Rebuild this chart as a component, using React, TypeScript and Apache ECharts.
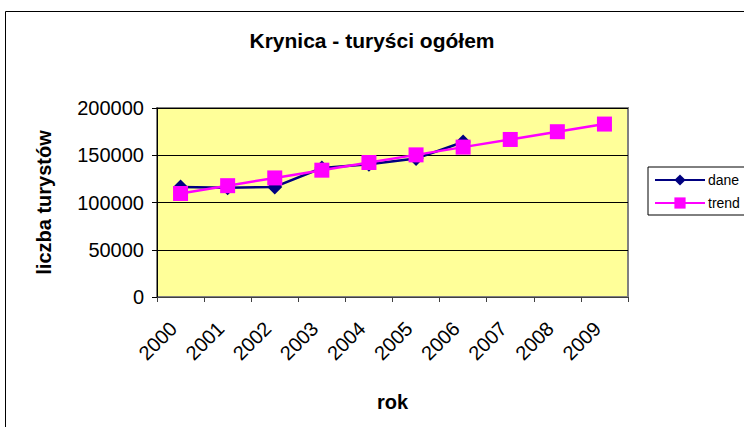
import React, { useEffect, useRef } from "react";
import * as echarts from "echarts";

const years = ["2000", "2001", "2002", "2003", "2004", "2005", "2006", "2007", "2008", "2009"];
const dane = [116500, 115500, 116500, 136500, 140500, 146500, 164000, null, null, null];
const trend = [109500, 117800, 126000, 134200, 142300, 150400, 158600, 166700, 174900, 183000];
const yTicks = { min: 0, max: 200000, interval: 50000 };

const FONT = "Arial, 'Liberation Sans', sans-serif";

export default function App() {
  const ref = useRef<HTMLDivElement>(null);
  useEffect(() => {
    if (!ref.current) return;
    const chart = echarts.init(ref.current, null, { renderer: "svg" });
    chart.setOption({
      animation: false,
      backgroundColor: "#ffffff",
      textStyle: { fontFamily: FONT, color: "#000" },
      title: {
        text: "Krynica - turyści ogółem",
        left: "center",
        top: 25,
        textStyle: { fontFamily: FONT, fontSize: 21, fontWeight: "bold", color: "#000" },
      },
      graphic: [
        {
          type: "rect",
          shape: { x: 5.5, y: 11.5, width: 900, height: 600 },
          style: { fill: "none", stroke: "#000", lineWidth: 1 },
          silent: true,
          z: -1,
        },
      ],
      legend: {
        orient: "vertical",
        left: 648,
        top: 167,
        padding: [6, 12, 5, 6],
        itemGap: 9,
        itemWidth: 50,
        itemHeight: 14,
        borderColor: "#000",
        borderWidth: 1,
        backgroundColor: "#fff",
        textStyle: { fontFamily: FONT, fontSize: 14, color: "#000", padding: [0, 0, 0, -2] },
        data: ["dane", "trend"],
      },
      grid: {
        left: 157,
        top: 108,
        right: 116,
        bottom: 130,
        show: true,
        backgroundColor: "#FFFF99",
        borderColor: "#808080",
        borderWidth: 2,
      },
      xAxis: {
        type: "category",
        data: years,
        boundaryGap: true,
        name: "rok",
        nameLocation: "middle",
        nameGap: 95,
        nameTextStyle: { fontFamily: FONT, fontSize: 20, fontWeight: "bold", color: "#000" },
        axisLine: { show: true, lineStyle: { color: "#404040", width: 1 } },
        axisTick: { show: true, inside: false, length: 5, lineStyle: { color: "#404040" } },
        axisLabel: {
          rotate: 45,
          margin: 21,
          fontFamily: FONT,
          fontSize: 20,
          color: "#000",
          padding: [0, 10, 0, 0],
        },
        splitLine: { show: false },
      },
      yAxis: {
        type: "value",
        min: yTicks.min,
        max: yTicks.max,
        interval: yTicks.interval,
        name: "liczba turystów",
        nameLocation: "middle",
        nameGap: 103,
        nameTextStyle: { fontFamily: FONT, fontSize: 20, fontWeight: "bold", color: "#000" },
        axisLine: { show: true, lineStyle: { color: "#000", width: 1 } },
        axisTick: { show: true, inside: false, length: 5, lineStyle: { color: "#000" } },
        axisLabel: {
          margin: 13,
          fontFamily: FONT,
          fontSize: 20,
          color: "#000",
          formatter: (v: number) => String(v),
        },
        splitLine: { show: true, lineStyle: { color: "#000", width: 1 } },
      },
      series: [
        {
          name: "dane",
          type: "line",
          data: dane,
          symbol: "diamond",
          symbolSize: 15,
          lineStyle: { color: "#000080", width: 2.5 },
          itemStyle: { color: "#000080" },
          z: 2,
        },
        {
          name: "trend",
          type: "line",
          data: trend,
          symbol: "rect",
          symbolSize: 15,
          lineStyle: { color: "#FF00FF", width: 2.5 },
          itemStyle: { color: "#FF00FF" },
          z: 3,
        },
      ],
    });
    return () => chart.dispose();
  }, []);
  return <div ref={ref} style={{ width: 744, height: 427, position: "absolute", left: 0, top: 0 }} />;
}
